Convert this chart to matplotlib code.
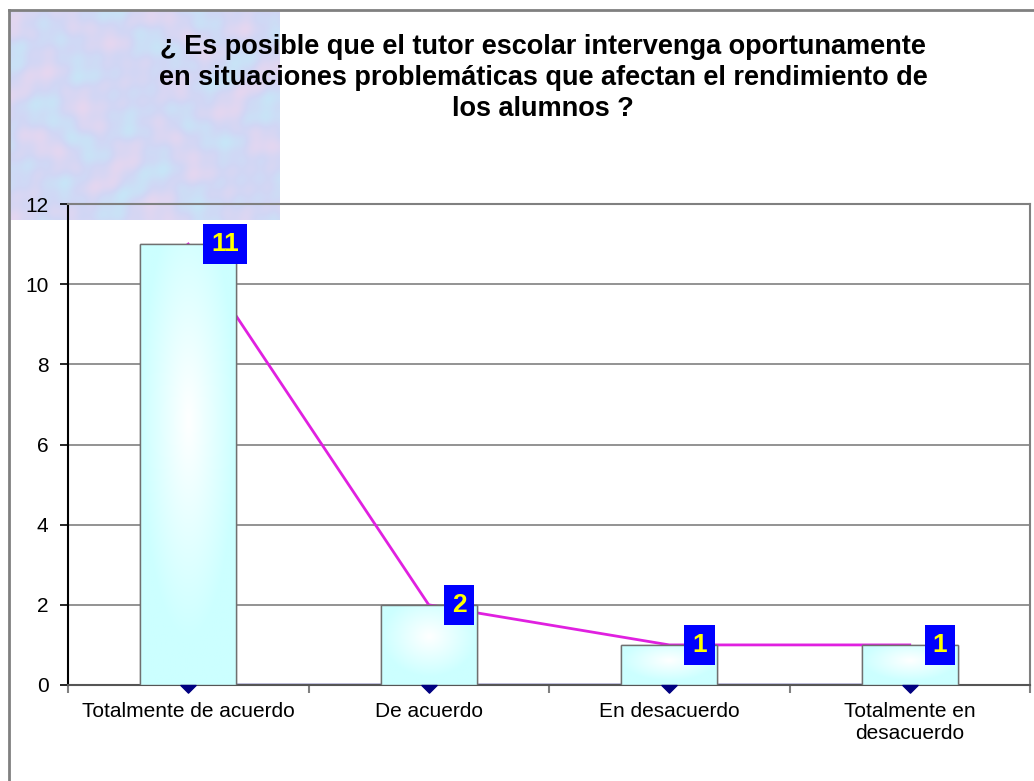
import numpy as np
import matplotlib.pyplot as plt
from matplotlib.patches import Rectangle
from matplotlib.path import Path

plt.rcParams['font.family'] = ['Liberation Sans', 'DejaVu Sans']

categories = ["Totalmente de acuerdo", "De acuerdo", "En desacuerdo", "Totalmente en\ndesacuerdo"]
counts = [11, 2, 1, 1]
base_line = [0, 0, 0, 0]
title = ("¿ Es posible que el tutor escolar intervenga oportunamente\n"
         "en situaciones problemáticas que afectan el rendimiento de\n"
         "los alumnos ?")

W, H = 1034, 781
fig = plt.figure(figsize=(W / 100, H / 100), dpi=100)

# textured corner (decoration)
bg = fig.add_axes([10 / W, 1 - 220 / H, 270 / W, 210 / H])
yy, xx = np.mgrid[0:120, 0:160]
t = (np.sin(xx / 7.0 + np.cos(yy / 9.0) * 2) + np.sin(yy / 6.0 + np.sin(xx / 11.0) * 2)
     + 0.6 * np.sin((xx + yy) / 3.3) * np.cos((xx - yy) / 4.1))
t = (t - t.min()) / (t.max() - t.min())
c1 = np.array([0.78, 0.90, 0.97])
c2 = np.array([0.82, 0.84, 0.96])
c3 = np.array([0.90, 0.84, 0.94])
img = np.where(t[..., None] < 0.5,
               c1 + (c2 - c1) * (t[..., None] * 2),
               c2 + (c3 - c2) * ((t[..., None] - 0.5) * 2))
bg.imshow(img, aspect='auto', interpolation='bilinear')
bg.axis('off')
bg.set_zorder(0)

# outer border
fig.add_artist(plt.Line2D([9 / W, 9 / W], [0, 1 - 10 / H], color='#808080', lw=2))
fig.add_artist(plt.Line2D([9 / W, 1], [1 - 10 / H, 1 - 10 / H], color='#808080', lw=2))

ax = fig.add_axes([68 / W, 1 - 685 / H, 962 / W, 481 / H])
ax.set_zorder(1)
ax.patch.set_alpha(0)

# downward triangle whose top edge sits on the value
tri = Path([(-1, 0), (1, 0), (0, -1), (-1, 0)], closed=True)

x = np.arange(len(categories))
ax.plot(x, counts, color='#E020E0', lw=2, zorder=2)
ax.plot(x, base_line, color='#000080', lw=2.5, zorder=2)
ax.plot(x, base_line, ls='none', color='#000080', marker=tri, markersize=11, zorder=5, clip_on=False)

bars = ax.bar(x, counts, width=0.4, color='#CCFFFF', edgecolor='#707070', lw=1, zorder=3)

# soft radial gradient inside bars
gy, gx = np.mgrid[-1:1:100j, -1:1:60j]
r = np.clip(np.sqrt(gx ** 2 + (gy + 0.2) ** 2), 0, 1)
grad = np.ones((100, 60, 3))
grad[..., 0] = 0.80 + 0.20 * (1 - r)
for b in bars:
    im = ax.imshow(grad, extent=[b.get_x(), b.get_x() + b.get_width(), 0, b.get_height()],
                   aspect='auto', zorder=3, interpolation='bilinear')
    im.set_clip_path(b)
    ax.add_patch(Rectangle((b.get_x(), 0), b.get_width(), b.get_height(),
                           fill=False, edgecolor='#707070', lw=1, zorder=4))

for xi, v in zip(x, counts):
    ax.annotate(str(v), (xi + 0.2, v), xytext=(-18, 0), textcoords='offset points',
                ha='left', va='center', fontsize=19, fontweight='bold', color='#FFFF00',
                bbox=dict(boxstyle='square,pad=0.3', fc='#0000FF', ec='none'), zorder=5)

ax.set_xlim(-0.5, 3.5)
ax.set_ylim(0, 12)
ax.set_yticks(range(0, 13, 2))
ax.yaxis.grid(True, color='#808080', lw=1.2)
ax.set_axisbelow(True)
ax.set_xticks(x)
ax.set_xticklabels(categories, fontsize=15)
ax.tick_params(axis='x', length=0, pad=12)
ax.set_xticks(np.arange(-0.5, 4, 1), minor=True)
ax.tick_params(axis='x', which='minor', length=6, color='#808080', width=1.5)
ax.tick_params(axis='y', labelsize=15, length=6, width=1.2, pad=8)
ax.spines['left'].set_color('black')
ax.spines['bottom'].set_color('#555555')
ax.spines['top'].set_color('#808080')
ax.spines['right'].set_color('#808080')
for s in ax.spines.values():
    s.set_linewidth(1.5)

fig.text(543 / W, 1 - 34 / H, title, ha='center', va='top', fontsize=19.5,
         fontweight='bold', linespacing=1.24, zorder=5)

fig.savefig('out.png', dpi=100)
